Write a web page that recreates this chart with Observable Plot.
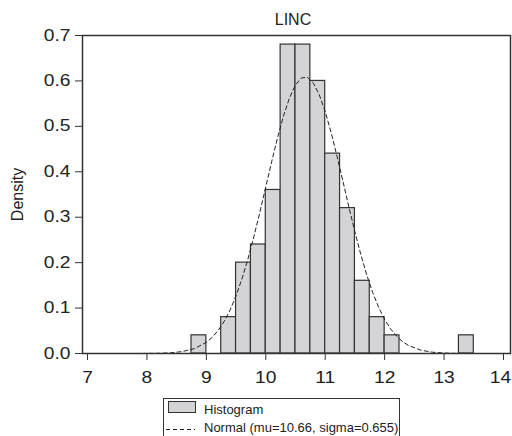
<!DOCTYPE html>
<html>
<head>
<meta charset="utf-8">
<script src="https://cdn.jsdelivr.net/npm/d3@7"></script>
<script src="https://cdn.jsdelivr.net/npm/@observablehq/plot@0.6"></script>
<style>
  html, body { margin: 0; padding: 0; background: #fff; }
  #wrap { position: relative; width: 512px; height: 436px; overflow: hidden; font-family: "Liberation Sans", Arial, Helvetica, sans-serif; color: #222; background: #fff; }
  #title { position: absolute; z-index: 2; left: 82px; width: 422px; top: 0; height: 20px; box-sizing: border-box; padding-top: 12px; text-align: center; font-size: 16px; line-height: 16px; overflow: visible; }
  #chart { position: absolute; z-index: 1; left: 0; top: 20px; }
  #legend { position: absolute; left: 163px; top: 398px; width: 237px; height: 41px; box-sizing: border-box; border: 1px solid #333; font-size: 13px; line-height: 13px; }
  #legend .abs { position: absolute; white-space: nowrap; }
</style>
</head>
<body>
<div id="wrap">
  <div id="title"></div>
  <div id="chart"></div>
  <div id="legend">
    <svg class="abs" style="left:4px;top:2px" width="28" height="12"><rect x="0.5" y="0.5" width="27" height="11" fill="#d4d4d6" stroke="#333"></rect></svg>
    <span class="abs" id="leg1" style="left:40px;top:4px"></span>
    <svg class="abs" style="left:2px;top:25px" width="30" height="10"><line x1="0" x2="29" y1="5.5" y2="5.5" stroke="#222" stroke-dasharray="4,3"></line></svg>
    <span class="abs" id="leg2" style="left:40px;top:22px"></span>
  </div>
</div>
<script>
const titleText = "LINC";
const yLabel = "Density";
const legendLabels = ["Histogram", "Normal (mu=10.66, sigma=0.655)"];

// histogram bins (lower edge, upper edge) and densities
const binLower = [8.75, 9.25, 9.5, 9.75, 10.0, 10.25, 10.5, 10.75, 11.0, 11.25, 11.5, 11.75, 12.0, 13.25];
const binUpper = [9.0, 9.5, 9.75, 10.0, 10.25, 10.5, 10.75, 11.0, 11.25, 11.5, 11.75, 12.0, 12.25, 13.5];
const binDensity = [0.04, 0.08, 0.20, 0.24, 0.36, 0.68, 0.68, 0.60, 0.44, 0.32, 0.16, 0.08, 0.04, 0.04];

// fitted normal curve
const normalX = [7.8, 8.0, 8.2, 8.4, 8.6, 8.8, 9.0, 9.1, 9.2, 9.3, 9.4, 9.5, 9.6, 9.7, 9.8, 9.9, 10.0, 10.1, 10.2, 10.3, 10.4, 10.5, 10.6, 10.7, 10.8, 10.9, 11.0, 11.1, 11.2, 11.3, 11.4, 11.5, 11.6, 11.7, 11.8, 11.9, 12.0, 12.1, 12.2, 12.3, 12.4, 12.6, 12.8, 13.0, 13.2, 13.4];
const normalY = [0.0000, 0.0002, 0.0005, 0.0016, 0.0043, 0.0108, 0.0246, 0.0357, 0.0508, 0.0706, 0.0958, 0.1270, 0.1645, 0.2080, 0.2573, 0.3107, 0.3666, 0.4227, 0.4760, 0.5237, 0.5629, 0.5912, 0.6066, 0.6080, 0.5953, 0.5696, 0.5324, 0.4861, 0.4336, 0.3780, 0.3217, 0.2677, 0.2175, 0.1727, 0.1339, 0.1015, 0.0751, 0.0543, 0.0384, 0.0265, 0.0179, 0.0076, 0.0029, 0.0010, 0.0003, 0.0000];

const xTicks = [7, 8, 9, 10, 11, 12, 13, 14];
const yTicks = [0.0, 0.1, 0.2, 0.3, 0.4, 0.5, 0.6, 0.7];

const bins = binLower.map((lo, i) => ({x1: lo, x2: binUpper[i], y: binDensity[i]}));
const curve = normalX.map((x, i) => ({x, y: normalY[i]}));

document.getElementById("title").textContent = titleText;
document.getElementById("leg1").textContent = legendLabels[0];
document.getElementById("leg2").textContent = legendLabels[1];

const chart = Plot.plot({
  width: 512,
  height: 375,
  marginTop: 15,
  marginBottom: 42,
  marginLeft: 82,
  marginRight: 2,
  style: {fontFamily: "'Liberation Sans', Arial, Helvetica, sans-serif", fontSize: "16px", color: "#222", background: "transparent", overflow: "visible"},
  x: {domain: [6.916, 14.118], ticks: xTicks, tickFormat: d => String(d)},
  y: {domain: [0, 0.7], ticks: yTicks, tickFormat: d3.format(".1f")},
  marks: [
    Plot.rect(bins, {x1: "x1", x2: "x2", y1: 0, y2: "y", fill: "#d4d4d6", stroke: "#333", strokeWidth: 1.2}),
    Plot.line(curve, {x: "x", y: "y", stroke: "#222", strokeWidth: 1, strokeDasharray: "4,3"}),
    Plot.axisX({ticks: xTicks, tickSize: 7, tickPadding: 11, stroke: "#333", label: null, fontSize: 16}),
    Plot.axisY({ticks: yTicks, tickSize: 7, tickPadding: 5, stroke: "#333", label: yLabel, labelAnchor: "center", labelArrow: "none", labelOffset: 71, fontSize: 16, tickFormat: d3.format(".1f")}),
    Plot.frame({stroke: "#333", strokeWidth: 1.5})
  ]
});
// tick labels in the reference are drawn horizontally wider
chart.querySelectorAll('g[aria-label="x-axis tick label"] text, g[aria-label="y-axis tick label"] text').forEach(t => {
  const tr = t.getAttribute("transform") || "";
  t.setAttribute("transform", tr + " scale(1.2,1)");
});
// keep the last x label inside the page edge
const xLabels = chart.querySelectorAll('g[aria-label="x-axis tick label"] text');
if (xLabels.length) {
  const last = xLabels[xLabels.length - 1];
  last.setAttribute("transform", last.getAttribute("transform").replace(" scale(1.2,1)", " translate(-3,0) scale(1.2,1)"));
}
document.getElementById("chart").appendChild(chart);
</script>
</body>
</html>
